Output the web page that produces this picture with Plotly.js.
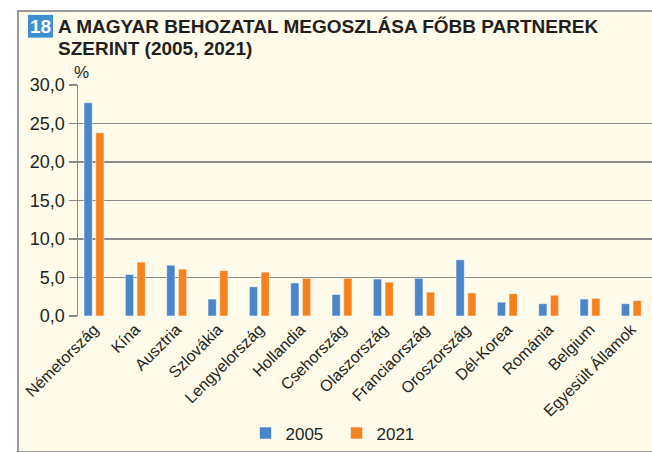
<!DOCTYPE html>
<html>
<head>
<meta charset="utf-8">
<script src="https://cdn.plot.ly/plotly-3.0.1.min.js"></script>
<style>
  html, body { margin: 0; padding: 0; background: #ffffff; }
  #frame { position: absolute; left: 17px; top: 10px; width: 640px; height: 439px;
           background: #fefbea; border-left: 2px solid #9a9a9a; border-top: 2px solid #9a9a9a; border-bottom: 2px solid #9a9a9a; }
  #chart { position: absolute; left: 0; top: 0; width: 652px; height: 452px; }
</style>
</head>
<body>
<div id="frame"></div>
<div id="chart"></div>
<script>
const categories = ["Németország", "Kína", "Ausztria", "Szlovákia", "Lengyelország", "Hollandia", "Csehország", "Olaszország", "Franciaország", "Oroszország", "Dél-Korea", "Románia", "Belgium", "Egyesült Államok"];
const values2005 = [27.7, 5.4, 6.6, 2.2, 3.8, 4.3, 2.8, 4.8, 4.9, 7.3, 1.8, 1.6, 2.2, 1.6];
const values2021 = [23.8, 7.0, 6.1, 5.9, 5.7, 4.9, 4.9, 4.4, 3.1, 3.0, 2.9, 2.7, 2.3, 2.0];
const yTicks = [0, 5, 10, 15, 20, 25, 30];
const seriesNames = ["2005", "2021"];
const titleLine1 = "A MAGYAR BEHOZATAL MEGOSZLÁSA FŐBB PARTNEREK";
const titleLine2 = "SZERINT (2005, 2021)";
const badge = "18";
const unitLabel = "%";

const FONT = "Liberation Sans Narrow, Arial Narrow, Liberation Sans, Arial, sans-serif";
const L = 78, T = 85, W = 652, H = 452, B = 133;
const pw = W - L, ph = H - T - B;
const px = x => (x - L) / pw;
const py = y => (H - B - y) / ph;

const traces = [
  { type: "bar", name: seriesNames[0], x: categories.map((c, i) => i), y: values2005,
    marker: { color: "#4a86c8", line: { color: "rgba(255,255,255,0.55)", width: 1 } }, hoverinfo: "y" },
  { type: "bar", name: seriesNames[1], x: categories.map((c, i) => i), y: values2021,
    marker: { color: "#f5821f", line: { color: "rgba(255,255,255,0.55)", width: 1 } }, hoverinfo: "y" }
];

const layout = {
  width: W, height: H,
  margin: { l: L, r: 0, t: T, b: B, pad: 0 },
  paper_bgcolor: "rgba(0,0,0,0)",
  plot_bgcolor: "rgba(0,0,0,0)",
  separators: ", ",
  barmode: "group",
  bargap: 0.434,
  bargroupgap: 0.29,
  font: { family: FONT, color: "#231f20", size: 16 },
  showlegend: true,
  legend: { orientation: "h", x: px(245.5), xanchor: "left", y: py(438), yanchor: "middle",
            font: { family: FONT, size: 17, color: "#231f20" }, entrywidth: 46, itemwidth: 30,
            bgcolor: "rgba(0,0,0,0)" },
  xaxis: {
    range: [-0.387, 13.5],
    tickmode: "array", tickvals: categories.map((c, i) => i), ticktext: categories,
    tickangle: -45, ticks: "", showgrid: false, zeroline: false, showline: false,
    tickfont: { family: FONT, size: 16, color: "#231f20" }, fixedrange: true
  },
  yaxis: {
    range: [0, 30], tickmode: "array", tickvals: yTicks, tickformat: ".1f",
    ticks: "outside", ticklen: 8, tickwidth: 1.5, tickcolor: "#8a8a8a",
    showline: true, linecolor: "#8a8a8a", linewidth: 1.5,
    showgrid: true, gridcolor: "#8a8a8a", gridwidth: 1.5, zeroline: false,
    tickfont: { family: FONT, size: 18, color: "#231f20" }, fixedrange: true
  },
  shapes: [
    { type: "rect", xref: "paper", yref: "paper", x0: px(28), x1: px(53), y0: py(37), y1: py(14),
      fillcolor: "#3d8fd1", line: { width: 0 }, layer: "above" }
  ],
  annotations: [
    { text: "<b>" + badge + "</b>", xref: "paper", yref: "paper", x: px(40.5), y: py(25.5),
      xanchor: "center", yanchor: "middle", showarrow: false,
      font: { family: FONT, size: 19, color: "#ffffff" } },
    { text: "<b>" + titleLine1 + "</b>", xref: "paper", yref: "paper", x: px(56), y: py(25.5),
      xanchor: "left", yanchor: "middle", showarrow: false,
      font: { family: FONT, size: 19, color: "#231f20" } },
    { text: "<b>" + titleLine2 + "</b>", xref: "paper", yref: "paper", x: px(56), y: py(48.5),
      xanchor: "left", yanchor: "middle", showarrow: false,
      font: { family: FONT, size: 19, color: "#231f20" } },
    { text: unitLabel, xref: "paper", yref: "paper", x: px(72), y: py(72),
      xanchor: "left", yanchor: "middle", showarrow: false,
      font: { family: FONT, size: 17, color: "#231f20" } }
  ]
};

Plotly.newPlot("chart", traces, layout, { displayModeBar: false, staticPlot: true });
</script>
</body>
</html>
